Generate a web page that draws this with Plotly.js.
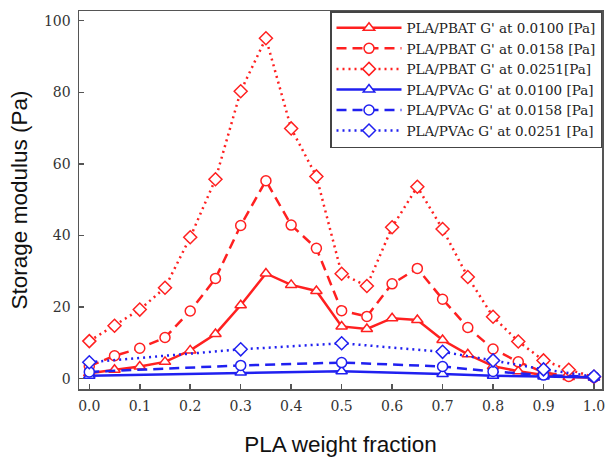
<!DOCTYPE html>
<html>
<head>
<meta charset="utf-8">
<script src="https://cdn.plot.ly/plotly-3.0.1.min.js"></script>
<style>html,body{margin:0;padding:0;background:#fff;}#chart{width:606px;height:457px;}</style>
</head>
<body>
<div id="chart"></div>
<script>
// PLA weight fraction
const xPBAT = [0.0,0.05,0.1,0.15,0.2,0.25,0.3,0.35,0.4,0.45,0.5,0.55,0.6,0.65,0.7,0.75,0.8,0.85,0.9,0.95,1.0];
const xPVAc = [0.0,0.3,0.5,0.7,0.8,0.9,1.0];

const pbat0100 = [1.5,2.5,3.4,4.7,7.9,12.5,20.5,29.4,26.2,24.5,14.6,13.9,16.9,16.4,10.8,6.8,3.5,2.1,1.0,0.5,0.3];
const pbat0158 = [3.5,6.4,8.5,11.5,18.9,28.0,42.8,55.3,42.9,36.4,19.0,17.4,26.5,30.8,22.2,14.3,8.3,4.7,1.8,0.6,0.4];
const pbat0251 = [10.5,14.8,19.3,25.4,39.5,55.7,80.3,95.1,69.9,56.5,29.3,25.9,42.3,53.6,41.8,28.4,17.3,10.4,5.1,2.5,0.5];

const pvac0100 = [0.8,1.7,2.1,1.3,0.8,0.6,0.3];
const pvac0158 = [1.9,3.7,4.5,3.4,2.0,1.0,0.5];
const pvac0251 = [4.6,8.2,9.9,7.5,5.1,2.6,0.6];

const names = [
  "PLA/PBAT G' at 0.0100 [Pa]",
  "PLA/PBAT G' at 0.0158 [Pa]",
  "PLA/PBAT G' at 0.0251[Pa]",
  "PLA/PVAc G' at 0.0100 [Pa]",
  "PLA/PVAc G' at 0.0158 [Pa]",
  "PLA/PVAc G' at 0.0251 [Pa]"
];

const RED = '#ff2020';
const BLUE = '#2020f0';

function tr(x, y, name, color, dash, symbol, lw) {
  return {
    type: 'scatter', mode: 'lines+markers', x: x, y: y, name: name,
    line: {color: color, width: lw, dash: dash},
    marker: {symbol: symbol, size: 10, color: 'white', line: {color: color, width: 1.5}}
  };
}

const data = [
  tr(xPBAT, pbat0100, names[0], RED, 'solid', 'triangle-up', 2.5),
  tr(xPBAT, pbat0158, names[1], RED, '10px,6px', 'circle', 2.5),
  tr(xPBAT, pbat0251, names[2], RED, '2px,4px', 'diamond', 2.5),
  tr(xPVAc, pvac0100, names[3], BLUE, 'solid', 'triangle-up', 2.5),
  tr(xPVAc, pvac0158, names[4], BLUE, '10px,6px', 'circle', 2.5),
  tr(xPVAc, pvac0251, names[5], BLUE, '2px,4px', 'diamond', 2.5)
];

const tickFont = {family: 'DejaVu Serif', size: 14, color: '#333'};
const layout = {
  width: 606, height: 457,
  margin: {l: 79, r: 4, t: 11, b: 68},
  paper_bgcolor: '#fff', plot_bgcolor: '#fff',
  showlegend: true,
  legend: {
    x: 1, xanchor: 'right', y: 1, yanchor: 'top',
    bgcolor: '#fff', bordercolor: '#444', borderwidth: 1.5,
    font: {family: 'DejaVu Serif', size: 13.5, color: '#222'},
    tracegroupgap: 0, itemwidth: 65
  },
  xaxis: {
    range: [-0.0204, 1.0159],
    tickvals: [0,0.1,0.2,0.3,0.4,0.5,0.6,0.7,0.8,0.9,1.0],
    ticktext: ['0.0','0.1','0.2','0.3','0.4','0.5','0.6','0.7','0.8','0.9','1.0'],
    ticks: 'inside', ticklen: 5, tickwidth: 1.5, tickcolor: '#555',
    showline: true, linecolor: '#555', linewidth: 1.5, mirror: true,
    showgrid: false, zeroline: false,
    tickfont: tickFont, ticklabelstandoff: 4,
    title: {text: 'PLA weight fraction', font: {family: 'Liberation Sans', size: 22.5, color: '#111'}, standoff: 24}
  },
  yaxis: {
    range: [-2.88, 102.7],
    tickvals: [0,20,40,60,80,100],
    ticks: 'inside', ticklen: 5, tickwidth: 1.5, tickcolor: '#555',
    showline: true, linecolor: '#555', linewidth: 1.5, mirror: true,
    showgrid: false, zeroline: false,
    tickfont: tickFont, ticklabelstandoff: 4,
    title: {text: 'Storage modulus (Pa)', font: {family: 'Liberation Sans', size: 22.5, color: '#111'}, standoff: 10}
  }
};

Plotly.newPlot('chart', data, layout, {displayModeBar: false, staticPlot: true});
</script>
</body>
</html>
